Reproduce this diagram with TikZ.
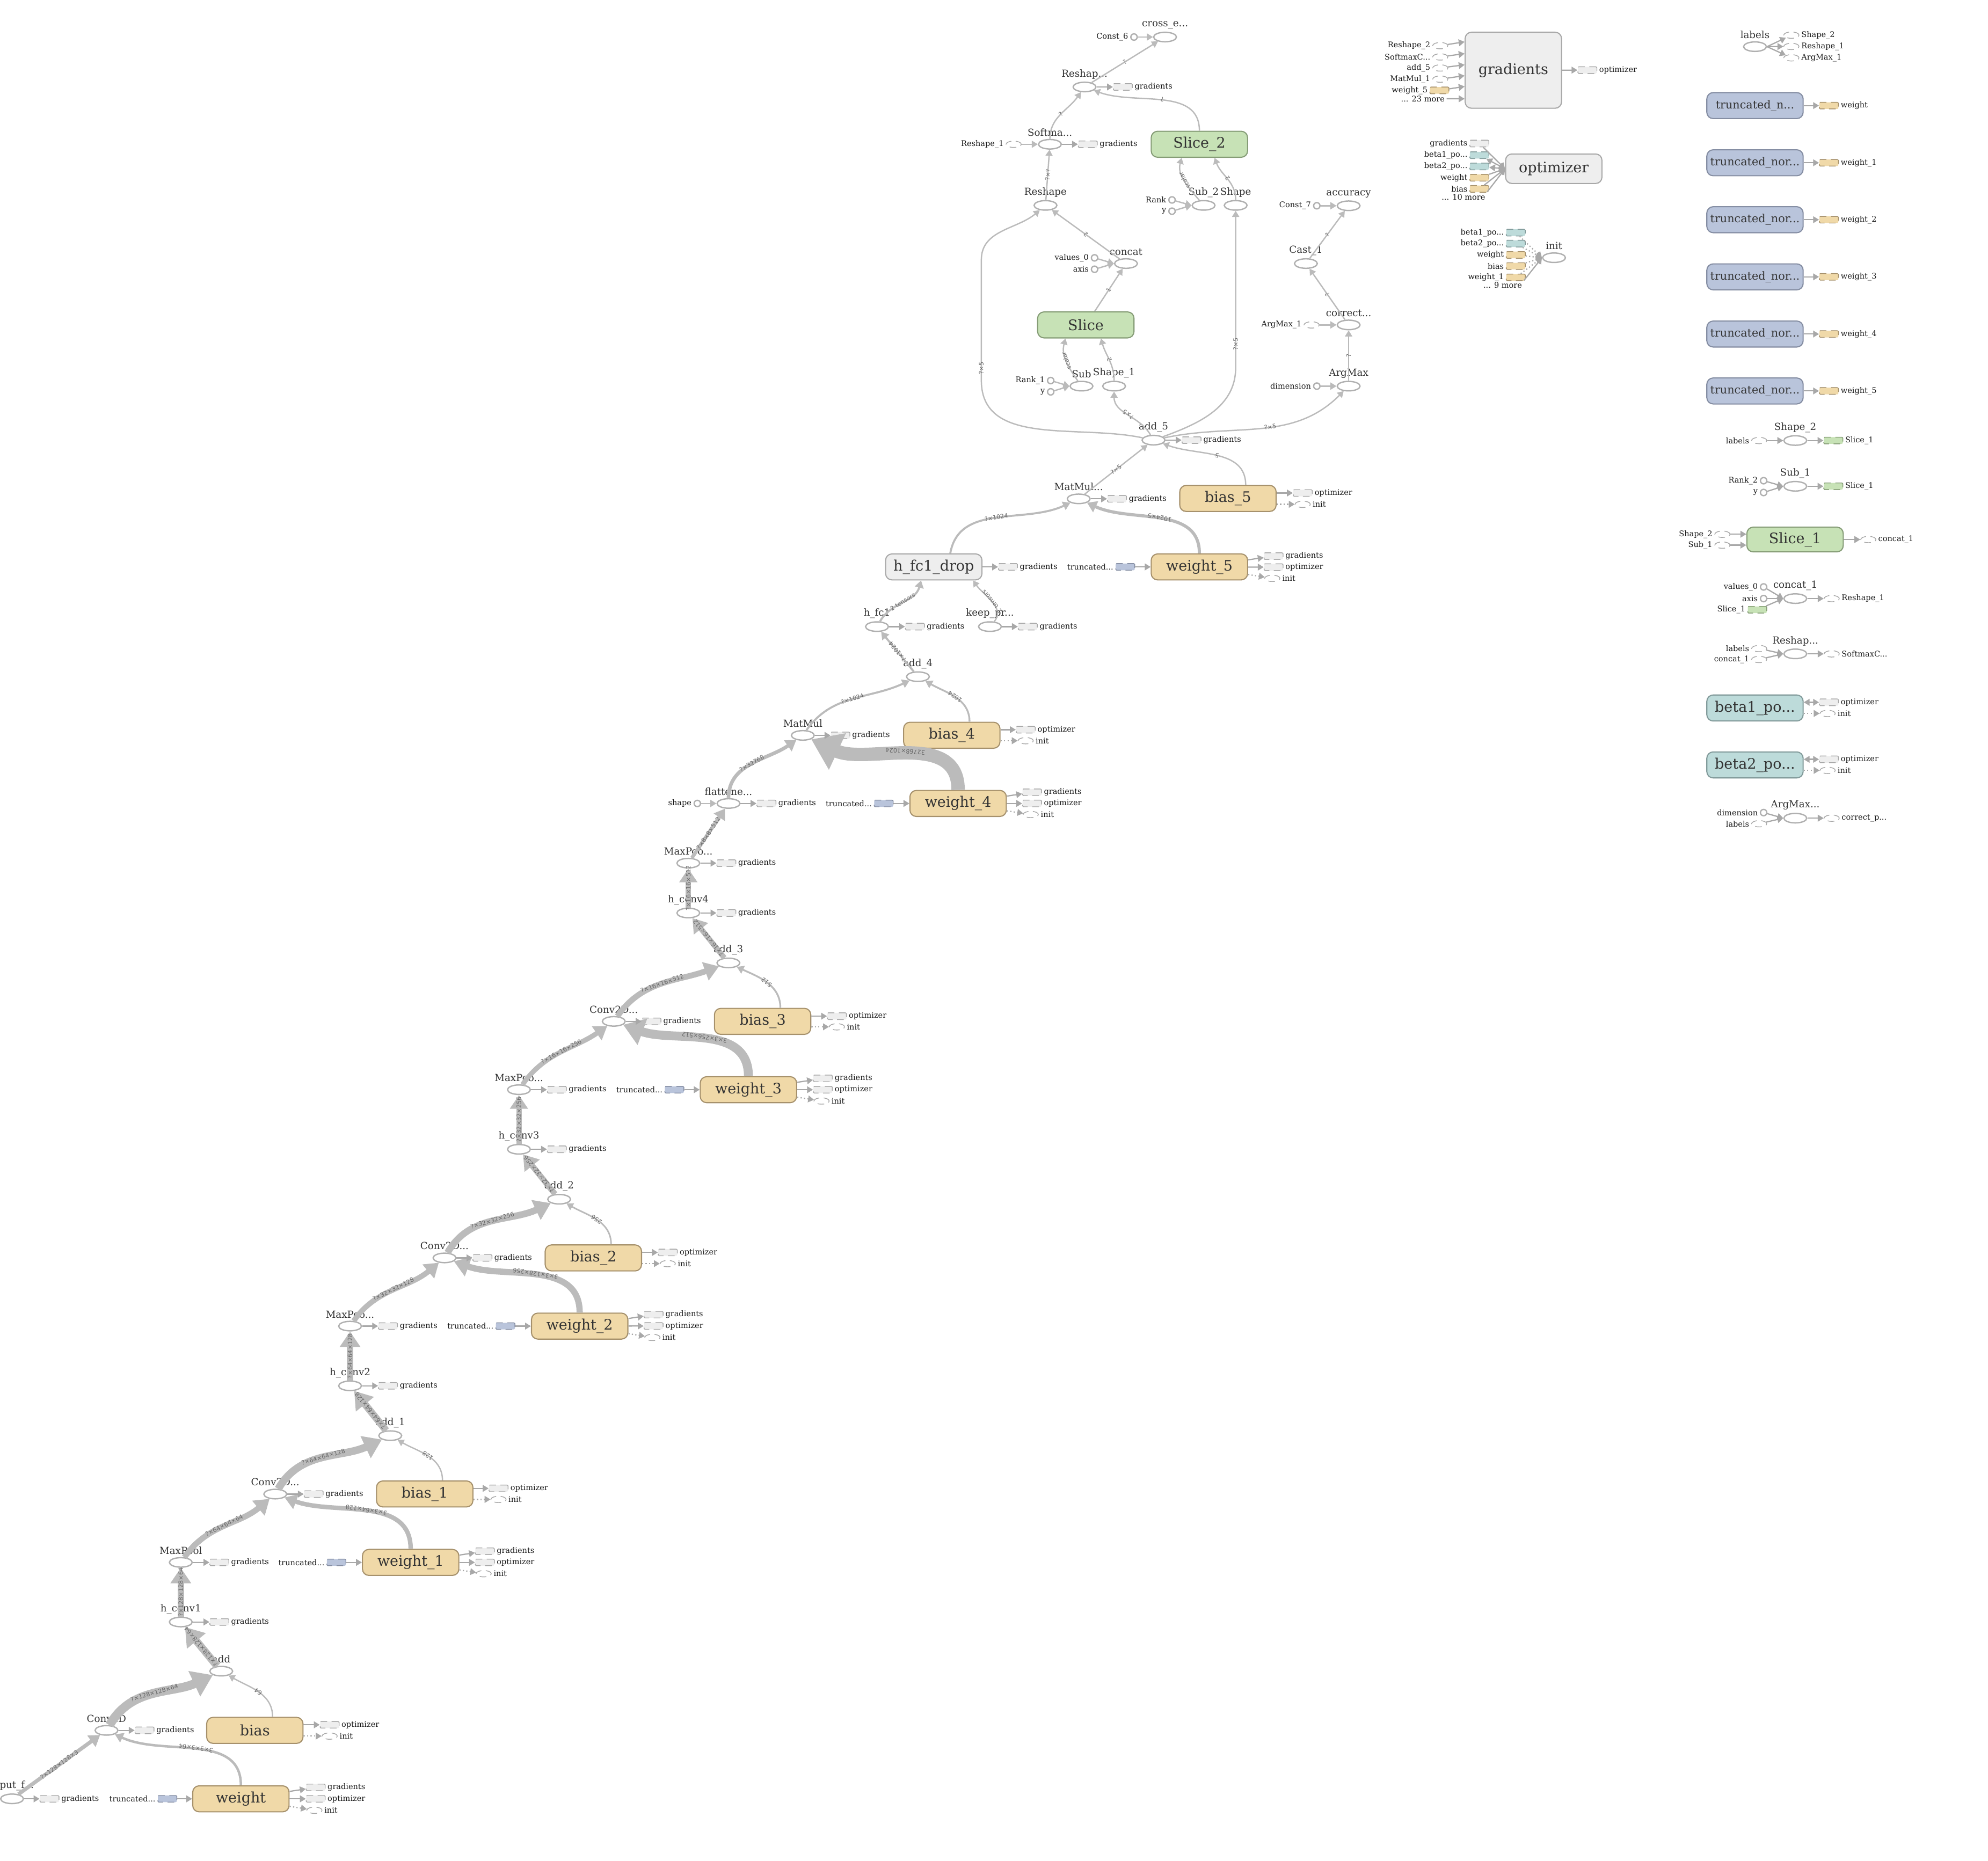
\documentclass[tikz,border=0pt]{standalone}
\usepackage{fontspec}
\setmainfont{DejaVu Serif}
\newfontfamily\edgefont{DejaVu Sans}
\usepackage{xcolor}
\usepackage{tikz}
\usetikzlibrary{arrows.meta, positioning, shapes.geometric}
\definecolor{edgec}{RGB}{187,187,187}
\definecolor{opdraw}{RGB}{176,176,176}
\definecolor{varfill}{RGB}{240,217,168}
\definecolor{vardraw}{RGB}{166,145,108}
\definecolor{tnfill}{RGB}{185,196,219}
\definecolor{tndraw}{RGB}{133,142,163}
\definecolor{slicefill}{RGB}{199,226,182}
\definecolor{slicedraw}{RGB}{133,156,118}
\definecolor{betafill}{RGB}{189,219,218}
\definecolor{betadraw}{RGB}{130,155,155}
\definecolor{metafill}{RGB}{238,238,238}
\definecolor{metadraw}{RGB}{168,168,168}
\definecolor{txt}{RGB}{51,51,51}

\begin{document}
\begin{tikzpicture}[
    x=0.02cm, y=-0.02cm,
    >={Triangle[length=1.6pt 1.9, width=1.6pt 2.6]},
    op/.style={ellipse, draw=opdraw, line width=0.6pt, minimum width=0.36cm, minimum height=0.15cm, inner sep=0pt},
    oplbl/.style={font=\fontsize{4.4}{5}\selectfont, text=txt, label distance=-2.3pt},
    ann/.style={font=\fontsize{3.5}{4}\selectfont, text=black!90, inner sep=0.7pt},
    cst/.style={circle, draw=opdraw, line width=0.6pt, minimum size=0.1cm, inner sep=0pt},
    prx/.style={rectangle, rounded corners=0.4pt, densely dashed, line width=0.35pt, minimum width=0.3cm, minimum height=0.105cm, inner sep=0pt},
    gprx/.style={prx, draw=metadraw, fill=metafill},
    vprx/.style={prx, draw=vardraw, fill=varfill},
    tprx/.style={prx, draw=tndraw, fill=tnfill},
    sprx/.style={prx, draw=slicedraw, fill=slicefill},
    bprx/.style={prx, draw=betadraw, fill=betafill},
    eprx/.style={ellipse, draw=metadraw, densely dashed, line width=0.35pt, minimum width=0.24cm, minimum height=0.1cm, inner sep=0pt},
    box/.style={rectangle, rounded corners=0.1cm, line width=0.5pt, minimum width=1.52cm, minimum height=0.41cm, inner sep=0pt, text=txt, font=\fontsize{6.5}{7}\selectfont},
    varbox/.style={box, draw=vardraw, fill=varfill},
    metabox/.style={box, draw=metadraw, fill=metafill},
    slicebox/.style={box, draw=slicedraw, fill=slicefill},
    tnbox/.style={box, draw=tndraw, fill=tnfill, font=\fontsize{5}{6}\selectfont},
    betabox/.style={box, draw=betadraw, fill=betafill},
    flow/.style={draw=edgec, line width=#1, ->},
    flow/.default=0.6pt,
    aux/.style={draw=metadraw, line width=0.55pt, ->},
    ctl/.style={aux, densely dotted},
    elbl/.style={font=\edgefont\fontsize{2.7}{3}\selectfont, text=black!60, sloped, allow upside down, inner sep=0.3pt}
]
\useasboundingbox (0,0) rectangle (1568,1468);

% first conv layer
\node[op, label={[oplbl]above:input\_f...}] (inp) at (9.5,1419) {};
\node[gprx, label={[ann]right:gradients}] (inpg) at (39,1419) {};
\node[tprx, label={[ann]left:truncated...}] (w0t) at (132,1419) {};
\node[varbox] (w0) at (190,1419) {weight};
\node[gprx, label={[ann]right:gradients}] (w0g) at (249,1410) {};
\node[gprx, label={[ann]right:optimizer}] (w0o) at (249,1419) {};
\node[eprx, label={[ann]right:init}] (w0i) at (248,1428) {};
\node[op, label={[oplbl]above:Conv2D}] (c0) at (84,1365) {};
\node[gprx, label={[ann]right:gradients}] (c0g) at (114,1365) {};
\node[varbox] (b0) at (201,1365) {bias};
\node[gprx, label={[ann]right:optimizer}] (b0o) at (260,1360.6) {};
\node[eprx, label={[ann]right:init}] (b0i) at (260,1369.5) {};
\node[op, label={[oplbl]above:add}] (add0) at (174.5,1318.3) {};
\node[op, label={[oplbl]above:h\_conv1}] (hc1) at (142.6,1279.5) {};
\node[gprx, label={[ann]right:gradients}] (hc1g) at (173,1279.5) {};

% second conv layer
\node[op, label={[oplbl]above:MaxPool}] (mp1) at (142.6,1232.5) {};
\node[gprx, label={[ann]right:gradients}] (mp1g) at (173,1232.5) {};
\node[tprx, label={[ann]left:truncated...}] (w1t) at (265.3,1232.5) {};
\node[varbox] (w1) at (323.9,1232.5) {weight\_1};
\node[gprx, label={[ann]right:gradients}] (w1g) at (382.4,1223.7) {};
\node[gprx, label={[ann]right:optimizer}] (w1o) at (382.4,1232.5) {};
\node[eprx, label={[ann]right:init}] (w1i) at (381.5,1241.4) {};
\node[op, label={[oplbl]above:Conv2D...}] (c1) at (217.1,1178.6) {};
\node[gprx, label={[ann]right:gradients}] (c1g) at (247.4,1178.6) {};
\node[varbox] (b1) at (335,1178.5) {bias\_1};
\node[gprx, label={[ann]right:optimizer}] (b1o) at (393.2,1174.1) {};
\node[eprx, label={[ann]right:init}] (b1i) at (393.2,1182.8) {};
\node[op, label={[oplbl]above:add\_1}] (add1) at (307.8,1132.5) {};
\node[op, label={[oplbl]above:h\_conv2}] (hc2) at (276.1,1093.2) {};
\node[gprx, label={[ann]right:gradients}] (hc2g) at (306,1093.2) {};

% third conv layer
\node[op, label={[oplbl]above:MaxPoo...}] (mp2) at (276.1,1046.1) {};
\node[gprx, label={[ann]right:gradients}] (mp2g) at (306,1046.1) {};
\node[tprx, label={[ann]left:truncated...}] (w2t) at (398.6,1046.1) {};
\node[varbox] (w2) at (457.2,1046.1) {weight\_2};
\node[gprx, label={[ann]right:gradients}] (w2g) at (515.5,1037) {};
\node[gprx, label={[ann]right:optimizer}] (w2o) at (515.5,1046) {};
\node[eprx, label={[ann]right:init}] (w2i) at (514.6,1055) {};
\node[op, label={[oplbl]above:Conv2D...}] (c2) at (350.6,992.3) {};
\node[gprx, label={[ann]right:gradients}] (c2g) at (380.5,992.3) {};
\node[varbox] (b2) at (468,992.3) {bias\_2};
\node[gprx, label={[ann]right:optimizer}] (b2o) at (526.7,988) {};
\node[eprx, label={[ann]right:init}] (b2i) at (526.7,996.8) {};
\node[op, label={[oplbl]above:add\_2}] (add2) at (441,946) {};
\node[op, label={[oplbl]above:h\_conv3}] (hc3) at (409.3,906.6) {};
\node[gprx, label={[ann]right:gradients}] (hc3g) at (439.2,906.6) {};

% fourth conv layer
\node[op, label={[oplbl]above:MaxPoo...}] (mp3) at (409.3,859.6) {};
\node[gprx, label={[ann]right:gradients}] (mp3g) at (439.2,859.6) {};
\node[tprx, label={[ann]left:truncated...}] (w3t) at (531.9,859.6) {};
\node[varbox] (w3) at (590.3,859.6) {weight\_3};
\node[gprx, label={[ann]right:gradients}] (w3g) at (649,850.7) {};
\node[gprx, label={[ann]right:optimizer}] (w3o) at (649,859.6) {};
\node[eprx, label={[ann]right:init}] (w3i) at (648,868.5) {};
\node[op, label={[oplbl]above:Conv2D...}] (c3) at (484.1,805.7) {};
\node[gprx, label={[ann]right:gradients}] (c3g) at (513.8,805.7) {};
\node[varbox] (b3) at (601.5,805.7) {bias\_3};
\node[gprx, label={[ann]right:optimizer}] (b3o) at (660.1,801.6) {};
\node[eprx, label={[ann]right:init}] (b3i) at (660.1,810) {};
\node[op, label={[oplbl]above:add\_3}] (add3) at (574.5,759.6) {};
\node[op, label={[oplbl]above:h\_conv4}] (hc4) at (542.9,720.2) {};
\node[gprx, label={[ann]right:gradients}] (hc4g) at (572.9,720.2) {};
\node[op, label={[oplbl]above:MaxPoo...}] (mp4) at (542.9,680.9) {};
\node[gprx, label={[ann]right:gradients}] (mp4g) at (572.9,680.9) {};

% dense layers
\node[op, label={[oplbl]above:flattene...}] (flat) at (574.6,633.8) {};
\node[cst, label={[ann]left:shape}] (shp) at (550,633.8) {};
\node[gprx, label={[ann]right:gradients}] (flatg) at (604.5,633.8) {};
\node[tprx, label={[ann]left:truncated...}] (w4t) at (697,633.8) {};
\node[varbox] (w4) at (755.7,633.8) {weight\_4};
\node[gprx, label={[ann]right:gradients}] (w4g) at (814,625) {};
\node[gprx, label={[ann]right:optimizer}] (w4o) at (814,633.8) {};
\node[eprx, label={[ann]right:init}] (w4i) at (813,642.5) {};
\node[op, label={[oplbl]above:MatMul}] (mm) at (633.2,580.1) {};
\node[gprx, label={[ann]right:gradients}] (mmg) at (662.8,580.1) {};
\node[varbox] (b4) at (750.7,580) {bias\_4};
\node[gprx, label={[ann]right:optimizer}] (b4o) at (809,575.6) {};
\node[eprx, label={[ann]right:init}] (b4i) at (809,584.3) {};
\node[op, label={[oplbl]above:add\_4}] (add4) at (724,533.8) {};
\node[op, label={[oplbl]above:h\_fc1}] (hfc1) at (691.7,494.3) {};
\node[gprx, label={[ann]right:gradients}] (hfc1g) at (721.6,494.3) {};
\node[op, label={[oplbl]above:keep\_pr...}] (keep) at (780.8,494.3) {};
\node[gprx, label={[ann]right:gradients}] (keepg) at (810.6,494.3) {};
\node[metabox] (drop) at (736.5,447.2) {h\_fc1\_drop};
\node[gprx, label={[ann]right:gradients}] (dropg) at (795,447.2) {};
\node[tprx, label={[ann]left:truncated...}] (w5t) at (887.5,447.2) {};
\node[varbox] (w5) at (946,447.2) {weight\_5};
\node[gprx, label={[ann]right:gradients}] (w5g) at (1004.5,438.7) {};
\node[gprx, label={[ann]right:optimizer}] (w5o) at (1004.5,447.4) {};
\node[eprx, label={[ann]right:init}] (w5i) at (1003.5,456.2) {};
\node[op, label={[oplbl]above:MatMul...}] (mm1) at (850.8,393.5) {};
\node[gprx, label={[ann]right:gradients}] (mm1g) at (881,393.5) {};
\node[varbox] (b5) at (968.5,393.2) {bias\_5};
\node[gprx, label={[ann]right:optimizer}] (b5o) at (1027.5,388.9) {};
\node[eprx, label={[ann]right:init}] (b5i) at (1027.5,397.8) {};
\node[op, label={[oplbl]above:add\_5}] (add5) at (909.8,347.2) {};
\node[gprx, label={[ann]right:gradients}] (add5g) at (939.8,347.2) {};

% loss and accuracy
\node[op, label={[oplbl]above:Sub}] (sub) at (853,304.6) {};
\node[cst, label={[ann]left:Rank\_1}] (rank1) at (828.7,300.2) {};
\node[cst, label={[ann]left:y}] (yc1) at (828.7,309.1) {};
\node[op, label={[oplbl]above:Shape\_1}] (shape1) at (878.7,304.6) {};
\node[slicebox] (slice) at (856.4,256.3) {Slice};
\node[op, label={[oplbl]above:concat}] (concat) at (888.1,207.9) {};
\node[cst, label={[ann]left:values\_0}] (values0) at (863.3,203.4) {};
\node[cst, label={[ann]left:axis}] (axis0) at (863.3,212.4) {};
\node[op, label={[oplbl]above:Reshape}] (reshape) at (824.6,162) {};
\node[op, label={[oplbl]above:Softma...}] (softmax) at (828.1,113.8) {};
\node[eprx, label={[ann]left:Reshape\_1}] (rs1p) at (799.5,113.8) {};
\node[gprx, label={[ann]right:gradients}] (softg) at (858,113.8) {};
\node[op, label={[oplbl]above:Reshap...}] (rs2) at (855.4,68.6) {};
\node[gprx, label={[ann]right:gradients}] (rs2g) at (885.6,68.6) {};
\node[op, label={[oplbl]above:cross\_e...}] (cross) at (918.9,29.2) {};
\node[cst, label={[ann]left:Const\_6}] (const6) at (894.4,29.2) {};
\node[slicebox] (slice2) at (946,113.8) {Slice\_2};
\node[op, label={[oplbl]above:Sub\_2}] (sub2) at (949.3,162) {};
\node[cst, label={[ann]left:Rank}] (rank) at (924.4,157.7) {};
\node[cst, label={[ann]left:y}] (y2) at (924.4,166.6) {};
\node[op, label={[oplbl]above:Shape}] (shape) at (974.6,162) {};
\node[op, label={[oplbl]above:accuracy}] (acc) at (1063.7,162.3) {};
\node[cst, label={[ann]left:Const\_7}] (const7) at (1038.6,162.3) {};
\node[op, label={[oplbl]above:Cast\_1}] (cast) at (1030,207.9) {};
\node[op, label={[oplbl]above:correct...}] (correct) at (1063.7,256.3) {};
\node[eprx, label={[ann]left:ArgMax\_1}] (am1p) at (1034.5,256.3) {};
\node[op, label={[oplbl]above:ArgMax}] (argmax) at (1063.7,304.6) {};
\node[cst, label={[ann]left:dimension}] (dim) at (1038.6,304.6) {};

% training
\node[metabox, minimum height=1.2cm] (grad) at (1193.6,55.4) {gradients};
\node[eprx, label={[ann]left:Reshape\_2}] (gi1) at (1136,36) {};
\node[eprx, label={[ann]left:SoftmaxC...}] (gi2) at (1136,44.9) {};
\node[eprx, label={[ann]left:add\_5}] (gi3) at (1136,53.6) {};
\node[eprx, label={[ann]left:MatMul\_1}] (gi4) at (1136,62.4) {};
\node[vprx, label={[ann]left:weight\_5}] (gi5) at (1135.3,71.3) {};
\node[ann, anchor=east] (more23) at (1141,78) {... 23 more};
\node[gprx, label={[ann]right:optimizer}] (grado) at (1252,55.3) {};
\node[metabox, minimum height=0.466cm] (opt) at (1225.5,133.1) {optimizer};
\node[gprx, label={[ann]left:gradients}] (oi1) at (1166.8,113.2) {};
\node[bprx, label={[ann]left:beta1\_po...}] (oi2) at (1166.8,122.4) {};
\node[bprx, label={[ann]left:beta2\_po...}] (oi3) at (1166.8,131.3) {};
\node[vprx, label={[ann]left:weight}] (oi4) at (1166.8,140.2) {};
\node[vprx, label={[ann]left:bias}] (oi5) at (1166.8,149) {};
\node[ann, anchor=east] (more10) at (1173,155.3) {... 10 more};
\node[op, label={[oplbl]above:init}] (init) at (1225.7,203.3) {};
\node[bprx, label={[ann]left:beta1\_po...}] (ii1) at (1195.5,183.5) {};
\node[bprx, label={[ann]left:beta2\_po...}] (ii2) at (1195.5,192.2) {};
\node[vprx, label={[ann]left:weight}] (ii3) at (1195.5,201.1) {};
\node[vprx, label={[ann]left:bias}] (ii4) at (1195.5,209.9) {};
\node[vprx, label={[ann]left:weight\_1}] (ii5) at (1195.5,218.8) {};
\node[ann, anchor=east] (more9) at (1202,225.1) {... 9 more};

% auxiliary nodes
\node[op, label={[oplbl]above:labels}] (lbls) at (1384.2,36.8) {};
\node[eprx, label={[ann]right:Shape\_2}] (lp1) at (1412.9,27.7) {};
\node[eprx, label={[ann]right:Reshape\_1}] (lp2) at (1412.9,36.6) {};
\node[eprx, label={[ann]right:ArgMax\_1}] (lp3) at (1412.9,45.6) {};
\node[tnbox] (tn0) at (1384.2,83.3) {truncated\_n...};
\node[vprx, label={[ann]right:weight}] (tn0w) at (1442.5,83.3) {};
\node[tnbox] (tn1) at (1384.2,128.4) {truncated\_nor...};
\node[vprx, label={[ann]right:weight\_1}] (tn1w) at (1442.5,128.4) {};
\node[tnbox] (tn2) at (1384.2,173.3) {truncated\_nor...};
\node[vprx, label={[ann]right:weight\_2}] (tn2w) at (1442.5,173.3) {};
\node[tnbox] (tn3) at (1384.2,218.4) {truncated\_nor...};
\node[vprx, label={[ann]right:weight\_3}] (tn3w) at (1442.5,218.4) {};
\node[tnbox] (tn4) at (1384.2,263.5) {truncated\_nor...};
\node[vprx, label={[ann]right:weight\_4}] (tn4w) at (1442.5,263.5) {};
\node[tnbox] (tn5) at (1384.2,308.4) {truncated\_nor...};
\node[vprx, label={[ann]right:weight\_5}] (tn5w) at (1442.5,308.4) {};
\node[op, label={[oplbl]above:Shape\_2}] (shape2) at (1416,347.5) {};
\node[eprx, label={[ann]left:labels}] (lblp) at (1387.5,347.5) {};
\node[sprx, label={[ann]right:Slice\_1}] (s1p) at (1446,347.5) {};
\node[op, label={[oplbl]above:Sub\_1}] (sub1) at (1416,383.6) {};
\node[cst, label={[ann]left:Rank\_2}] (rank2) at (1391,379.2) {};
\node[cst, label={[ann]left:y}] (y3) at (1391,388.5) {};
\node[sprx, label={[ann]right:Slice\_1}] (s1q) at (1446,383.6) {};
\node[slicebox, minimum height=0.39cm] (slice1) at (1415.8,425.6) {Slice\_1};
\node[eprx, label={[ann]left:Shape\_2}] (sh2p) at (1358.5,421.4) {};
\node[eprx, label={[ann]left:Sub\_1}] (sub1p) at (1358.5,430) {};
\node[eprx, label={[ann]right:concat\_1}] (cc1p) at (1473.6,425.6) {};
\node[op, label={[oplbl]above:concat\_1}] (concat1) at (1416,472.2) {};
\node[cst, label={[ann]left:values\_0}] (values1) at (1391,463) {};
\node[cst, label={[ann]left:axis}] (axis1) at (1391,472.2) {};
\node[sprx, label={[ann]left:Slice\_1}] (s1r) at (1386,481) {};
\node[eprx, label={[ann]right:Reshape\_1}] (rs1q) at (1444.7,472.2) {};
\node[op, label={[oplbl]above:Reshap...}] (rs3) at (1416,515.8) {};
\node[eprx, label={[ann]left:labels}] (lblq) at (1387.5,511.6) {};
\node[eprx, label={[ann]left:concat\_1}] (cc1q) at (1387.5,520.2) {};
\node[eprx, label={[ann]right:SoftmaxC...}] (smp) at (1444.7,515.8) {};
\node[betabox] (beta1) at (1384.2,558.5) {beta1\_po...};
\node[gprx, label={[ann]right:optimizer}] (bt1o) at (1442.5,554) {};
\node[eprx, label={[ann]right:init}] (bt1i) at (1441.5,562.8) {};
\node[betabox] (beta2) at (1384.2,603.4) {beta2\_po...};
\node[gprx, label={[ann]right:optimizer}] (bt2o) at (1442.5,599) {};
\node[eprx, label={[ann]right:init}] (bt2i) at (1441.5,607.7) {};
\node[op, label={[oplbl]above:ArgMax...}] (am) at (1416,645.4) {};
\node[cst, label={[ann]left:dimension}] (dim2) at (1391,641) {};
\node[eprx, label={[ann]left:labels}] (lblr) at (1387.5,649.8) {};
\node[eprx, label={[ann]right:correct\_p...}] (cpp) at (1444.7,645.4) {};

% main data flow
\draw[flow=1.7pt] (inp) -- node[elbl] {?×128×128×3} (c0);
\draw[flow=1.1pt] (w0.north) to[out=90, in=-25] node[elbl] {3×3×3×64} (c0);
\draw[flow=4pt] (c0) to[out=60, in=205] node[elbl] {?×128×128×64} (add0);
\draw[flow] ([xshift=0.28cm]b0.north) to[out=90, in=-30] node[elbl] {64} (add0);
\draw[flow=3.4pt] (add0) -- node[elbl] {?×128×128×64} (hc1);
\draw[flow=2.8pt] (hc1) -- node[elbl] {?×128×128×64} (mp1);
\draw[flow=2.6pt] (mp1) to[out=55, in=220] node[elbl] {?×64×64×64} (c1);
\draw[flow=2pt] (w1.north) to[out=90, in=-20] node[elbl] {3×3×64×128} (c1);
\draw[flow=3.4pt] (c1) to[out=60, in=205] node[elbl] {?×64×64×128} (add1);
\draw[flow] ([xshift=0.28cm]b1.north) to[out=90, in=-30] node[elbl] {128} (add1);
\draw[flow=3.2pt] (add1) -- node[elbl] {?×64×64×128} (hc2);
\draw[flow=2.8pt] (hc2) -- node[elbl] {?×64×64×128} (mp2);
\draw[flow=2.4pt] (mp2) to[out=55, in=220] node[elbl] {?×32×32×128} (c2);
\draw[flow=2.8pt] (w2.north) to[out=90, in=-20] node[elbl] {3×3×128×256} (c2);
\draw[flow=3pt] (c2) to[out=60, in=205] node[elbl] {?×32×32×256} (add2);
\draw[flow=0.7pt] ([xshift=0.28cm]b2.north) to[out=90, in=-30] node[elbl] {256} (add2);
\draw[flow=2.6pt] (add2) -- node[elbl] {?×32×32×256} (hc3);
\draw[flow=2.4pt] (hc3) -- node[elbl] {?×32×32×256} (mp3);
\draw[flow=2.2pt] (mp3) to[out=55, in=215] node[elbl] {?×16×16×256} (c3);
\draw[flow=4pt] (w3.north) to[out=90, in=-20] node[elbl] {3×3×256×512} (c3);
\draw[flow=2.6pt] (c3) to[out=55, in=200] node[elbl] {?×16×16×512} (add3);
\draw[flow=0.8pt] ([xshift=0.28cm]b3.north) to[out=90, in=-25] node[elbl] {512} (add3);
\draw[flow=2.4pt] (add3) -- node[elbl] {?×16×16×512} (hc4);
\draw[flow=2.4pt] (hc4) -- node[elbl] {?×16×16×512} (mp4);
\draw[flow=1.6pt] (mp4) -- node[elbl] {?×8×8×512} (flat);
\draw[flow] (shp) -- (flat);
\draw[flow=1.6pt] (flat) to[out=90, in=215] node[elbl] {?×32768} (mm);
\draw[flow=6pt] (w4.north) to[out=90, in=-25] node[elbl] {32768×1024} (mm);
\draw[flow=0.9pt] (mm) to[out=55, in=205] node[elbl] {?×1024} (add4);
\draw[flow=0.8pt] ([xshift=0.28cm]b4.north) to[out=90, in=-30] node[elbl] {1024} (add4);
\draw[flow=0.9pt] (add4) -- node[elbl] {?×1024} (hfc1);
\draw[flow=0.9pt] (hfc1) to[out=60, in=-105] node[elbl] {2 tensors} ([xshift=-0.2cm]drop.south);
\draw[flow] (keep) to[out=50, in=-55] node[elbl] {2 tensors} ([xshift=0.62cm]drop.south);
\draw[flow=0.9pt] ([xshift=0.26cm]drop.north) to[out=80, in=205] node[elbl] {?×1024} (mm1);
\draw[flow=1.4pt] (w5.north) to[out=90, in=-25] node[elbl] {1024×5} (mm1);
\draw[flow] (mm1) -- node[elbl] {?×5} (add5);
\draw[flow] ([xshift=0.28cm]b5.north) to[out=90, in=-20] node[elbl] {5} (add5);

% loss and accuracy flow
\draw[flow] (add5) to[out=168, in=-90] (774,300) -- node[elbl, pos=0.1] {?×5} (774,205) to[out=90, in=220] (reshape);
\draw[flow] (add5) to[out=120, in=-90] node[elbl] {?×5} (shape1);
\draw[flow] (add5) to[out=20, in=-90] (974.6,290) -- node[elbl, pos=0.15] {?×5} (shape);
\draw[flow] (add5) to[out=12, in=225] node[elbl, pos=0.55] {?×5} (argmax);
\draw[flow] (rank1) -- (sub.west);
\draw[flow] (yc1) -- (sub.west);
\draw[flow] (sub) to[out=125, in=-105] node[elbl] {scalar} ([xshift=-0.32cm]slice.south);
\draw[flow] (shape1) to[out=90, in=-75] node[elbl] {2} ([xshift=0.24cm]slice.south);
\draw[flow] ([xshift=0.14cm]slice.north) -- node[elbl] {1} (concat);
\draw[flow] (values0) -- (concat.west);
\draw[flow] (axis0) -- (concat.west);
\draw[flow] (concat) -- node[elbl] {2} (reshape);
\draw[flow] (reshape) -- node[elbl] {?×?} (softmax);
\draw[flow] (rs1p) -- (softmax);
\draw[flow] (softmax) to[out=90, in=235] node[elbl] {?} (rs2);
\draw[flow] (slice2.north) to[out=90, in=-20] node[elbl] {?} (rs2);
\draw[flow] (rs2) -- node[elbl] {?} (cross);
\draw[flow] (const6) -- (cross);
\draw[flow] (rank) -- (sub2.west);
\draw[flow] (y2) -- (sub2.west);
\draw[flow] (sub2) to[out=130, in=-105] node[elbl] {scalar} ([xshift=-0.28cm]slice2.south);
\draw[flow] (shape) to[out=90, in=-70] node[elbl] {2} ([xshift=0.24cm]slice2.south);
\draw[flow] (const7) -- (acc);
\draw[flow] (cast) -- node[elbl] {?} (acc);
\draw[flow] (correct) -- node[elbl] {?} (cast);
\draw[flow] (am1p) -- (correct);
\draw[flow] (argmax) -- node[elbl] {?} (correct);
\draw[flow] (dim) -- (argmax);

% links to summary nodes
\draw[aux] (inp) -- (inpg);
\draw[aux] (w0t) -- (w0);
\draw[aux] (w0) -- (w0g);
\draw[aux] (w0) -- (w0o);
\draw[ctl] (w0) -- (w0i);
\draw[aux] (c0) -- (c0g);
\draw[aux] (b0.east |- b0o) -- (b0o);
\draw[ctl] (b0.east |- b0i) -- (b0i);
\draw[aux] (hc1) -- (hc1g);
\draw[aux] (mp1) -- (mp1g);
\draw[aux] (w1t) -- (w1);
\draw[aux] (w1) -- (w1g);
\draw[aux] (w1) -- (w1o);
\draw[ctl] (w1) -- (w1i);
\draw[aux] (c1) -- (c1g);
\draw[aux] (b1.east |- b1o) -- (b1o);
\draw[ctl] (b1.east |- b1i) -- (b1i);
\draw[aux] (hc2) -- (hc2g);
\draw[aux] (mp2) -- (mp2g);
\draw[aux] (w2t) -- (w2);
\draw[aux] (w2) -- (w2g);
\draw[aux] (w2) -- (w2o);
\draw[ctl] (w2) -- (w2i);
\draw[aux] (c2) -- (c2g);
\draw[aux] (b2.east |- b2o) -- (b2o);
\draw[ctl] (b2.east |- b2i) -- (b2i);
\draw[aux] (hc3) -- (hc3g);
\draw[aux] (mp3) -- (mp3g);
\draw[aux] (w3t) -- (w3);
\draw[aux] (w3) -- (w3g);
\draw[aux] (w3) -- (w3o);
\draw[ctl] (w3) -- (w3i);
\draw[aux] (c3) -- (c3g);
\draw[aux] (b3.east |- b3o) -- (b3o);
\draw[ctl] (b3.east |- b3i) -- (b3i);
\draw[aux] (hc4) -- (hc4g);
\draw[aux] (mp4) -- (mp4g);
\draw[aux] (flat) -- (flatg);
\draw[aux] (w4t) -- (w4);
\draw[aux] (w4) -- (w4g);
\draw[aux] (w4) -- (w4o);
\draw[ctl] (w4) -- (w4i);
\draw[aux] (mm) -- (mmg);
\draw[aux] (b4.east |- b4o) -- (b4o);
\draw[ctl] (b4.east |- b4i) -- (b4i);
\draw[aux] (hfc1) -- (hfc1g);
\draw[aux] (keep) -- (keepg);
\draw[aux] (drop) -- (dropg);
\draw[aux] (w5t) -- (w5);
\draw[aux] (w5) -- (w5g);
\draw[aux] (w5) -- (w5o);
\draw[ctl] (w5) -- (w5i);
\draw[aux] (mm1) -- (mm1g);
\draw[aux] (b5.east |- b5o) -- (b5o);
\draw[ctl] (b5.east |- b5i) -- (b5i);
\draw[aux] (add5) -- (add5g);
\draw[aux] (softmax) -- (softg);
\draw[aux] (rs2) -- (rs2g);

% training links
\draw[aux] (gi1) -- ([yshift=0.448cm]grad.west);
\draw[aux] (gi2) -- ([yshift=0.262cm]grad.west);
\draw[aux] (gi3) -- ([yshift=0.086cm]grad.west);
\draw[aux] (gi4) -- ([yshift=-0.086cm]grad.west);
\draw[aux] (gi5) -- ([yshift=-0.256cm]grad.west);
\draw[aux] (more23) -- ([yshift=-0.45cm]grad.west);
\draw[aux] (grad) -- (grado);
\draw[aux] (oi1) -- (opt.west);
\draw[aux, <->] (oi2) -- (opt.west);
\draw[aux, <->] (oi3) -- (opt.west);
\draw[aux] (oi4) -- (opt.west);
\draw[aux] (oi5) -- (opt.west);
\draw[aux] (more10.north east) -- (opt.west);
\draw[ctl] (ii1) -- (init.west);
\draw[ctl] (ii2) -- (init.west);
\draw[ctl] (ii3) -- (init.west);
\draw[ctl] (ii4) -- (init.west);
\draw[ctl] (ii5) -- (init.west);
\draw[aux] (more9.north east) -- (init.west);

% auxiliary links
\draw[aux] (lbls.east) -- (lp1);
\draw[aux] (lbls.east) -- (lp2);
\draw[aux] (lbls.east) -- (lp3);
\draw[aux] (tn0) -- (tn0w);
\draw[aux] (tn1) -- (tn1w);
\draw[aux] (tn2) -- (tn2w);
\draw[aux] (tn3) -- (tn3w);
\draw[aux] (tn4) -- (tn4w);
\draw[aux] (tn5) -- (tn5w);
\draw[aux] (lblp) -- (shape2);
\draw[aux] (shape2) -- (s1p);
\draw[aux] (rank2) -- (sub1.west);
\draw[aux] (y3) -- (sub1.west);
\draw[aux] (sub1) -- (s1q);
\draw[aux] (sh2p) -- (sh2p -| slice1.west);
\draw[aux] (sub1p) -- (sub1p -| slice1.west);
\draw[aux] (slice1) -- (cc1p);
\draw[aux] (values1) -- (concat1.west);
\draw[aux] (axis1) -- (concat1.west);
\draw[aux] (s1r) -- (concat1.west);
\draw[aux] (concat1) -- (rs1q);
\draw[aux] (lblq) -- (rs3.west);
\draw[aux] (cc1q) -- (rs3.west);
\draw[aux] (rs3) -- (smp);
\draw[aux, <->] (beta1.east |- bt1o) -- (bt1o);
\draw[ctl] (beta1.east |- bt1i) -- (bt1i);
\draw[aux, <->] (beta2.east |- bt2o) -- (bt2o);
\draw[ctl] (beta2.east |- bt2i) -- (bt2i);
\draw[aux] (dim2) -- (am.west);
\draw[aux] (lblr) -- (am.west);
\draw[aux] (am) -- (cpp);
\end{tikzpicture}
\end{document}
